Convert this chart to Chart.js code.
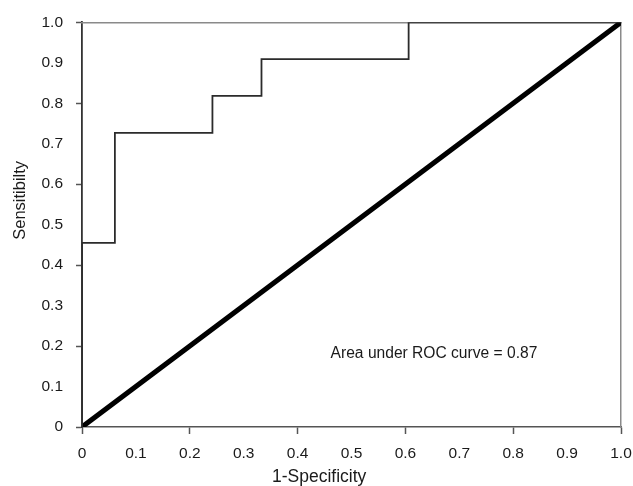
<!DOCTYPE html>
<html>
<head>
<meta charset="utf-8">
<script src="https://cdn.jsdelivr.net/npm/chart.js@4.4.0/dist/chart.umd.min.js"></script>
<style>
  html, body { margin: 0; padding: 0; background: #fff; }
  #wrap { width: 633px; height: 486px; position: relative; }
</style>
</head>
<body>
<div id="wrap"><canvas id="c"></canvas></div>
<script>
// ROC curve vertices (1-specificity, sensitivity)
const rocFpr = [0, 0, 0.061, 0.242, 0.333, 0.606, 1.0];
const rocTpr = [0, 0.455, 0.727, 0.818, 0.909, 1.0, 1.0];
// Reference (chance) diagonal
const diagFpr = [0, 1];
const diagTpr = [0, 1];
// Tick values
const tickValues = [0, 0.1, 0.2, 0.3, 0.4, 0.5, 0.6, 0.7, 0.8, 0.9, 1.0];
const xTitle = '1-Specificity';
const yTitle = 'Sensitibilty';
const aucLabel = 'Area under ROC curve = 0.87';
const aucPos = [0.653, 0.18];

const FONT = '"Liberation Sans", Arial, Helvetica, sans-serif';
const TXT = '#1a1a1a';

const toPts = (xs, ys) => xs.map((x, i) => ({ x: x, y: ys[i] }));
const fmt = v => {
  const r = Math.round(v * 10) / 10;
  if (r === 0) return '0';
  return r.toFixed(1);
};
const isMajor = ctx => {
  const v = ctx.tick ? ctx.tick.value : 0;
  return Math.round(v * 10) % 2 === 0;
};

const extras = {
  id: 'extras',
  afterDraw(chart) {
    const c = chart.ctx;
    const xs = chart.scales.x, ys = chart.scales.y;
    c.save();
    c.fillStyle = TXT;
    c.textAlign = 'center';
    c.textBaseline = 'middle';
    c.font = '15.6px ' + FONT;
    c.fillText(aucLabel, xs.getPixelForValue(aucPos[0]), ys.getPixelForValue(aucPos[1]));
    c.font = '17.5px ' + FONT;
    c.fillText(xTitle, xs.getPixelForValue(0.44), 477);
    c.font = '16.5px ' + FONT;
    c.translate(20, ys.getPixelForValue(0.56));
    c.rotate(-Math.PI / 2);
    c.fillText(yTitle, 0, 0);
    c.restore();
  }
};

new Chart(document.getElementById('c'), {
  type: 'scatter',
  data: {
    datasets: [
      {
        data: toPts(rocFpr, rocTpr),
        showLine: true,
        stepped: 'before',
        borderColor: '#2b2b2b',
        borderWidth: 1.8,
        pointRadius: 0,
        fill: false
      },
      {
        data: toPts(diagFpr, diagTpr),
        showLine: true,
        borderColor: '#000',
        borderWidth: 5,
        borderCapStyle: 'round',
        pointRadius: 0,
        fill: false
      }
    ]
  },
  options: {
    responsive: true,
    maintainAspectRatio: false,
    animation: false,
    layout: { padding: { top: 21, right: 0, left: 0, bottom: 0 } },
    plugins: { legend: { display: false }, tooltip: { enabled: false } },
    scales: {
      x: {
        type: 'linear', min: 0, max: 1,
        afterBuildTicks: s => { s.ticks = tickValues.map(v => ({ value: v })); },
        afterFit: s => { s.height = 59; s.paddingRight = 12; s.paddingLeft = 0; },
        border: { color: '#555', width: 1.5 },
        grid: {
          drawOnChartArea: false, drawTicks: true, tickLength: 7, tickWidth: 1.5,
          tickColor: ctx => isMajor(ctx) ? '#555' : 'rgba(0,0,0,0)'
        },
        ticks: { callback: v => fmt(v), color: TXT, font: { family: FONT, size: 15.5 }, padding: 10, maxRotation: 0, autoSkip: false }
      },
      y: {
        type: 'linear', min: 0, max: 1,
        afterBuildTicks: s => { s.ticks = tickValues.map(v => ({ value: v })); },
        afterFit: s => { s.width = 82; },
        border: { color: '#333', width: 1.8 },
        grid: {
          drawOnChartArea: false, drawTicks: true, tickLength: 6, tickWidth: 1.5,
          tickColor: ctx => isMajor(ctx) ? '#555' : 'rgba(0,0,0,0)'
        },
        ticks: { callback: v => fmt(v), color: TXT, font: { family: FONT, size: 15.5 }, padding: 13, autoSkip: false }
      },
      x2: {
        type: 'linear', position: 'top', min: 0, max: 1,
        afterFit: s => { s.height = 0; s.paddingRight = 0; s.paddingLeft = 0; },
        border: { color: '#8a8a8a', width: 1.5 },
        grid: { display: false, drawTicks: false },
        ticks: { display: false }
      },
      y2: {
        type: 'linear', position: 'right', min: 0, max: 1,
        afterFit: s => { s.width = 0; },
        border: { color: '#8a8a8a', width: 1.5 },
        grid: { display: false, drawTicks: false },
        ticks: { display: false }
      }
    }
  },
  plugins: [extras]
});
</script>
</body>
</html>
